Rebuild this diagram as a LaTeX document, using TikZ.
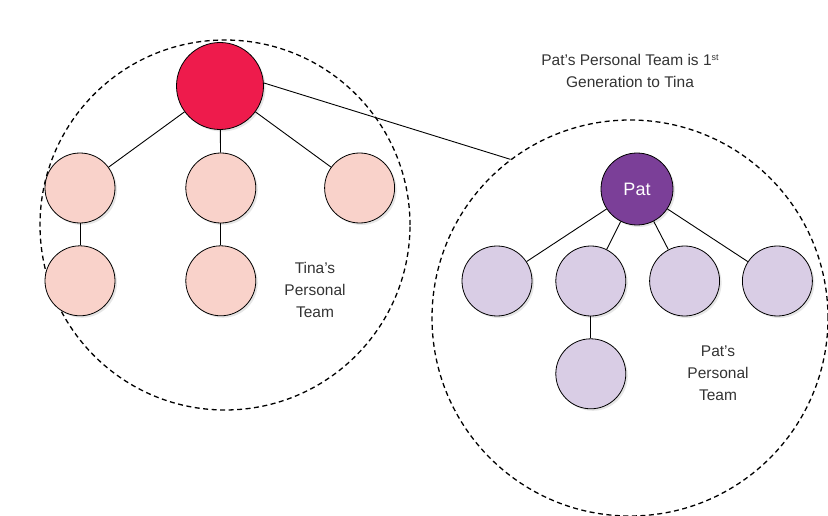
\documentclass[tikz,border=0pt]{standalone}
\usepackage{fontspec}
\setmainfont{Liberation Sans}
\usetikzlibrary{positioning,shadows}
\definecolor{tinared}{HTML}{EE1B4C}
\definecolor{tinapink}{HTML}{F9D2CA}
\definecolor{patpurple}{HTML}{7B3F98}
\definecolor{patlilac}{HTML}{D9CDE5}
\tikzset{
member/.style={circle, draw=black, line width=0.8pt, minimum size=70pt, inner sep=0pt,
    drop shadow={shadow xshift=2pt, shadow yshift=-2pt, opacity=0.2}},
tinamember/.style={member, fill=tinapink},
patmember/.style={member, fill=patlilac},
team/.style={circle, draw=black, dash pattern=on 5pt off 3.5pt, line width=1.3pt,
    inner sep=0pt, minimum size=#1},
link/.style={draw=black, line width=0.9pt},
caption/.style={align=center, font=\fontsize{15.5}{22}\selectfont, text=black!80},
}

\begin{document}
\begin{tikzpicture}[x=1pt,y=-1pt]
    \useasboundingbox (0,0) rectangle (828,516);

    % the two teams
    \node[team=370pt] (tinateam) at (225,225) {};
    \node[team=396pt] (patteam) at (630,318) {};

    % Tina and her team
    \node[member, fill=tinared, minimum size=87pt] (tina) at (220,86) {};
    \node[tinamember] (t1) at (80,188) {};
    \node[tinamember, right=70pt of t1] (t2) {};
    \node[tinamember, right=68pt of t2] (t3) {};
    \node[tinamember, below=22pt of t1] (t4) {};
    \node[tinamember, below=22pt of t2] (t5) {};

    \draw[link] (tina) -- (t1);
    \draw[link] (tina) -- (t2);
    \draw[link] (tina) -- (t3);
    \draw[link] (t1) -- (t4);
    \draw[link] (t2) -- (t5);

    % Pat and his team
    \node[member, fill=patpurple, minimum size=72pt, text=white,
        font=\fontsize{18}{21}\selectfont] (pat) at (637,189) {Pat};
    \node[patmember] (p1) at (497,281) {};
    \node[patmember, right=23pt of p1] (p2) {};
    \node[patmember, right=23pt of p2] (p3) {};
    \node[patmember, right=22pt of p3] (p4) {};
    \node[patmember, below=22pt of p2] (p5) {};

    \draw[link] (pat) -- (p1);
    \draw[link] (pat) -- (p2);
    \draw[link] (pat) -- (p3);
    \draw[link] (pat) -- (p4);
    \draw[link] (p2) -- (p5);

    % Tina to Pat's team
    \draw[link] (tina.4) -- (patteam.127);

    % captions
    \node[caption] (tinacap) at (315,290) {Tina’s\\Personal\\Team};
    \node[caption] (patcap) at (718,373) {Pat’s\\Personal\\Team};
    \node[caption] (gencap) at (630,71) {Pat’s Personal Team is 1{\fontsize{9}{9}\selectfont\raisebox{5pt}{st}}\\Generation to Tina};
\end{tikzpicture}
\end{document}
